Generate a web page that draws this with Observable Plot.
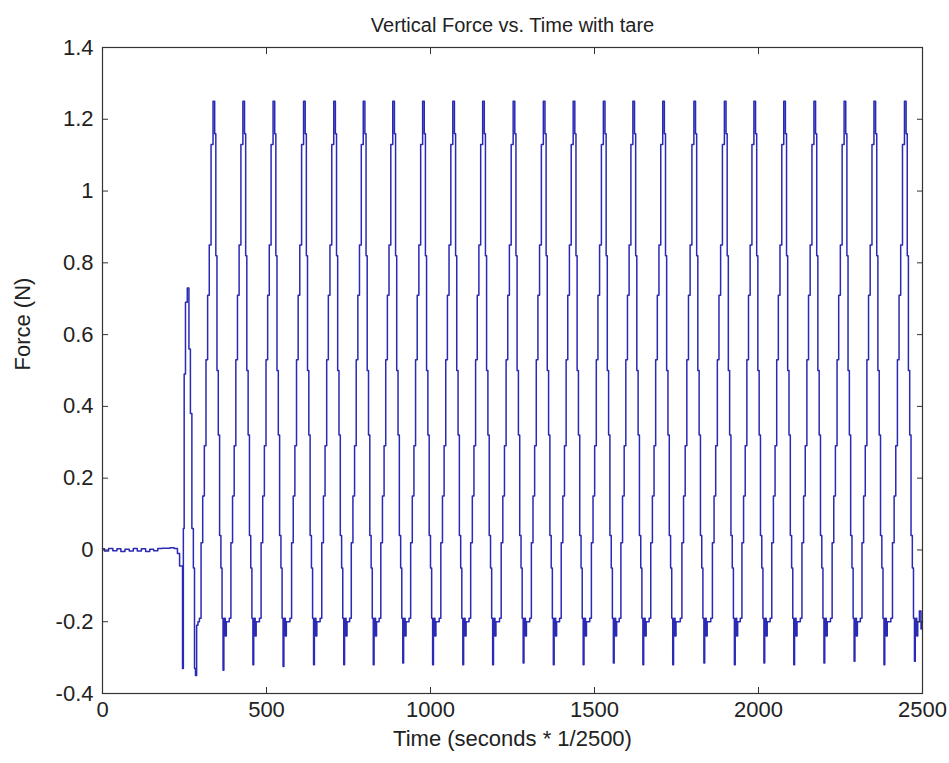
<!DOCTYPE html>
<html>
<head>
<meta charset="utf-8">
<script src="https://cdn.jsdelivr.net/npm/d3@7"></script>
<script src="https://cdn.jsdelivr.net/npm/@observablehq/plot@0.6"></script>
<style>
  html, body { margin: 0; padding: 0; background: #fff; }
  #chart svg { display: block; }
</style>
</head>
<body>
<div id="chart"></div>
<script>
// ---- text ----
const titleText = "Vertical Force vs. Time with tare";
const xLabelText = "Time (seconds * 1/2500)";
const yLabelText = "Force (N)";

// ---- tick labels ----
const xTicks = [0, 500, 1000, 1500, 2000, 2500];
const yTicks = [-0.4, -0.2, 0, 0.2, 0.4, 0.6, 0.8, 1, 1.2, 1.4];

// ---- start-up: tared baseline then the first, smaller pulse ----
const startTime  = [0, 12, 25, 38, 50, 62, 75, 88, 100, 112, 125, 138, 150, 162, 175, 188, 200, 212, 225, 232, 238, 243, 245, 248, 250, 256, 261, 266, 270, 275, 279, 282, 285, 289];
const startForce = [0.003, -0.003, 0.004, -0.002, 0.003, -0.004, 0.002, -0.003, 0.004, -0.003, 0.003, -0.004, 0.002, -0.002, 0.004, 0.005, 0.005, 0.006, 0.004, -0.01, -0.045, -0.045, -0.33, 0.06, 0.49, 0.69, 0.73, 0.56, 0.38, 0.06, -0.05, -0.33, -0.35, -0.21];

// ---- regular pulses: time of each peak (samples) and depth of each trough (N) ----
const peakTimes   = [342, 433, 525, 618, 710, 800, 890, 981, 1073, 1164, 1257, 1349, 1440, 1532, 1622, 1713, 1808, 1901, 1991, 2082, 2174, 2266, 2357, 2450];
const troughForce = [-0.335, -0.32, -0.325, -0.32, -0.32, -0.32, -0.315, -0.32, -0.32, -0.32, -0.315, -0.32, -0.32, -0.315, -0.32, -0.32, -0.315, -0.32, -0.315, -0.32, -0.315, -0.31, -0.32, -0.31];

// shape of one pulse as seen in the picture: offset from its peak (samples) and force (N); null = trough
const cycleOffset = [-49, -44, -39, -34, -29, -24, -19, -14, -8, -2, 2, 5, 9, 13, 17, 21, 24, 27, 29, 31, 34, 37];
const cycleForce  = [-0.20, -0.19, 0.02, 0.15, 0.29, 0.53, 0.71, 0.85, 1.13, 1.25, 1.16, 0.82, 0.50, 0.32, 0.04, -0.05, -0.19, null, -0.22, -0.19, -0.24, -0.20];

// ---- tail after the last trough ----
const endTime  = [2494, 2497, 2500];
const endForce = [-0.17, -0.22, -0.20];

// ---- build the table ----
const rows = [];
startTime.forEach((t, i) => rows.push({t, f: startForce[i]}));
peakTimes.forEach((p, i) => cycleOffset.forEach((o, j) =>
  rows.push({t: p + o, f: cycleForce[j] === null ? troughForce[i] : cycleForce[j]})));
endTime.forEach((t, i) => rows.push({t, f: endForce[i]}));
rows.sort((a, b) => a.t - b.t);

const fmtY = d => String(+d.toFixed(1));
const FS = 22;
const FT = 20;

const chart = Plot.plot({
  width: 949,
  height: 763,
  marginTop: 47,
  marginBottom: 70,
  marginLeft: 102,
  marginRight: 27,
  x: {domain: [0, 2500], label: null},
  y: {domain: [-0.4, 1.4], label: null},
  style: {fontFamily: "'Liberation Sans', Arial, Helvetica, sans-serif", fontSize: FS + "px", color: "#222", background: "#fff"},
  marks: [
    Plot.line(rows, {x: "t", y: "f", stroke: "#2a2ab4", strokeWidth: 1.5, curve: "step"}),
    Plot.frame({stroke: "#333", strokeWidth: 1.2}),
    Plot.axisX(xTicks, {anchor: "bottom", tickSize: -6, tickPadding: 14, label: null, tickFormat: d => String(d), fontSize: FS, stroke: "#333"}),
    Plot.axisX(xTicks, {anchor: "top", tickSize: -6, label: null, tickFormat: () => "", stroke: "#333"}),
    Plot.axisY(yTicks, {anchor: "left", tickSize: -6, tickPadding: 15, label: null, tickFormat: fmtY, fontSize: FS, stroke: "#333"}),
    Plot.axisY(yTicks, {anchor: "right", tickSize: -6, label: null, tickFormat: () => "", stroke: "#333"}),
    Plot.text([titleText], {frameAnchor: "top", dy: -30, fontSize: FT, fill: "#222"}),
    Plot.text([xLabelText], {frameAnchor: "bottom", dy: 52, fontSize: FS, fill: "#222"}),
    Plot.text([yLabelText], {frameAnchor: "left", dx: -80, rotate: -90, fontSize: FS, fill: "#222"})
  ]
});
document.getElementById("chart").appendChild(chart);
</script>
</body>
</html>
